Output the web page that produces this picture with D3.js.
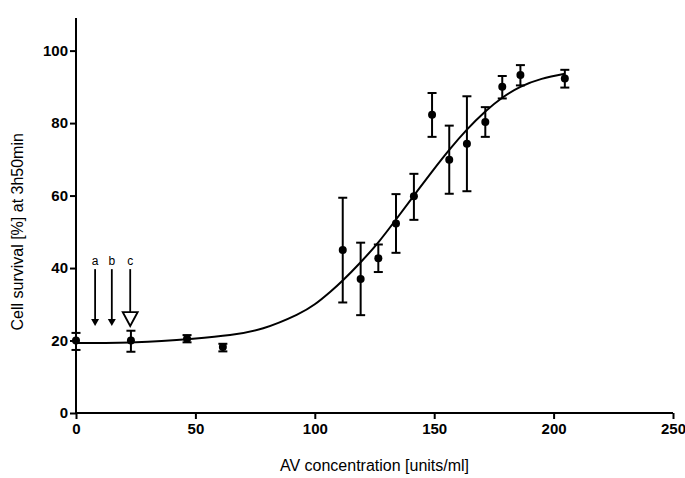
<!DOCTYPE html>
<html>
<head>
<meta charset="utf-8">
<script src="https://cdn.jsdelivr.net/npm/d3@7"></script>
<style>
  body { margin: 0; background: #fff; }
  text { font-family: "Liberation Sans", Arial, sans-serif; }
</style>
</head>
<body>
<div id="chart"></div>
<script>
// measured points: concentration, mean survival, error bar low/high
var conc = [0, 23, 46.5, 61.5, 111.7, 119.2, 126.6, 134, 141.5, 149.1, 156.3, 163.7, 171.4, 178.5, 186.1, 204.7];
var survival = [20, 20, 20.5, 18.2, 45, 37, 42.7, 52.3, 59.8, 82.3, 69.9, 74.3, 80.3, 90, 93.3, 92.3];
var errLow = [17.4, 16.9, 19.5, 17, 30.5, 27, 38.9, 44.2, 53.3, 76.2, 60.5, 61.2, 76.2, 86.8, 90.4, 89.8];
var errHigh = [22.1, 22.7, 21.5, 19.1, 59.4, 47, 46.5, 60.4, 66, 88.3, 79.3, 87.4, 84.4, 93, 96, 94.7];

// fitted curve
var curveX = [0, 25, 49, 64.5, 78.4, 92.4, 100, 106.4, 111.9, 118.9, 126.6, 134, 141.5, 149.1, 156.3, 163.7, 171.4, 178.5, 186.1, 195, 204.7];
var curveY = [19.3, 19.5, 20.5, 21.5, 23.4, 27.1, 30.0, 33.4, 36.7, 41.4, 47.1, 53.4, 60.0, 66.6, 72.6, 78.2, 83.2, 87.0, 90.0, 92.2, 93.6];

// arrows a, b, c
var arrowX = [8, 15, 22.7];
var arrowLabels = ["a", "b", "c"];

var xTicks = [0, 50, 100, 150, 200, 250];
var yTicks = [0, 20, 40, 60, 80, 100];

var width = 685, height = 478;
var svg = d3.select("#chart").append("svg")
    .attr("width", width)
    .attr("height", height);

var x = d3.scaleLinear().domain([0, 250]).range([76, 673]);
var y = d3.scaleLinear().domain([0, 109]).range([413, 18]);

// axes
var xAxis = svg.append("g")
    .attr("transform", "translate(0," + y(0) + ")")
    .call(d3.axisBottom(x).tickValues(xTicks).tickSize(6).tickPadding(4).tickFormat(d3.format("d")));
var yAxis = svg.append("g")
    .attr("transform", "translate(" + x(0) + ",0)")
    .call(d3.axisLeft(y).tickValues(yTicks).tickSize(6).tickPadding(2).tickFormat(d3.format("d")));

[xAxis, yAxis].forEach(function (g) {
    g.select(".domain").attr("stroke", "#000").attr("stroke-width", 2);
    g.selectAll(".tick line").attr("stroke", "#000").attr("stroke-width", 2);
    g.selectAll(".tick text")
        .attr("fill", "#000")
        .attr("font-size", 15)
        .attr("font-weight", "bold")
        .style("font-family", "'Liberation Sans', Arial, sans-serif");
});
xAxis.select(".domain").attr("d", "M" + x(0) + ",0H" + x(250));
yAxis.select(".domain").attr("d", "M0," + y(0) + "V" + y(109));

// axis titles
svg.append("text")
    .attr("x", (x(0) + x(250)) / 2)
    .attr("y", 471)
    .attr("text-anchor", "middle")
    .attr("font-size", 16)
    .attr("fill", "#000")
    .text("AV concentration [units/ml]");
svg.append("text")
    .attr("transform", "translate(23," + y(50) + ") rotate(-90)")
    .attr("text-anchor", "middle")
    .attr("font-size", 16)
    .attr("fill", "#000")
    .text("Cell survival [%] at 3h50min");

// fitted curve
var line = d3.line()
    .x(function (d, i) { return x(curveX[i]); })
    .y(function (d) { return y(d); })
    .curve(d3.curveNatural);
svg.append("path")
    .datum(curveY)
    .attr("d", line)
    .attr("fill", "none")
    .attr("stroke", "#000")
    .attr("stroke-width", 2);

// error bars
var eb = svg.append("g").attr("stroke", "#000").attr("stroke-width", 2);
conc.forEach(function (c, i) {
    var cx = x(c);
    eb.append("line").attr("x1", cx).attr("x2", cx).attr("y1", y(errLow[i])).attr("y2", y(errHigh[i]));
    eb.append("line").attr("x1", cx - 4.5).attr("x2", cx + 4.5).attr("y1", y(errLow[i])).attr("y2", y(errLow[i]));
    eb.append("line").attr("x1", cx - 4.5).attr("x2", cx + 4.5).attr("y1", y(errHigh[i])).attr("y2", y(errHigh[i]));
});

// points
svg.selectAll("circle.pt")
    .data(survival)
    .enter().append("circle")
    .attr("class", "pt")
    .attr("cx", function (d, i) { return x(conc[i]); })
    .attr("cy", function (d) { return y(d); })
    .attr("r", 4)
    .attr("fill", "#000");

// arrows
var tipY = y(24), topY = y(39.7);
arrowLabels.forEach(function (lab, i) {
    var ax = x(arrowX[i]);
    svg.append("text")
        .attr("x", ax)
        .attr("y", y(42.3) + 5)
        .attr("text-anchor", "middle")
        .attr("font-size", 12)
        .attr("fill", "#000")
        .text(lab);
    if (lab === "c") {
        var triTop = tipY - 14;
        svg.append("line")
            .attr("x1", ax).attr("x2", ax).attr("y1", topY).attr("y2", triTop)
            .attr("stroke", "#000").attr("stroke-width", 1.8);
        svg.append("path")
            .attr("d", "M" + (ax - 7.5) + "," + triTop + "L" + (ax + 7.5) + "," + triTop + "L" + ax + "," + tipY + "Z")
            .attr("fill", "#fff").attr("stroke", "#000").attr("stroke-width", 1.8);
    } else {
        svg.append("line")
            .attr("x1", ax).attr("x2", ax).attr("y1", topY).attr("y2", tipY - 5)
            .attr("stroke", "#000").attr("stroke-width", 1.8);
        svg.append("path")
            .attr("d", "M" + (ax - 4) + "," + (tipY - 7) + "L" + (ax + 4) + "," + (tipY - 7) + "L" + ax + "," + tipY + "Z")
            .attr("fill", "#000");
    }
});
</script>
</body>
</html>
